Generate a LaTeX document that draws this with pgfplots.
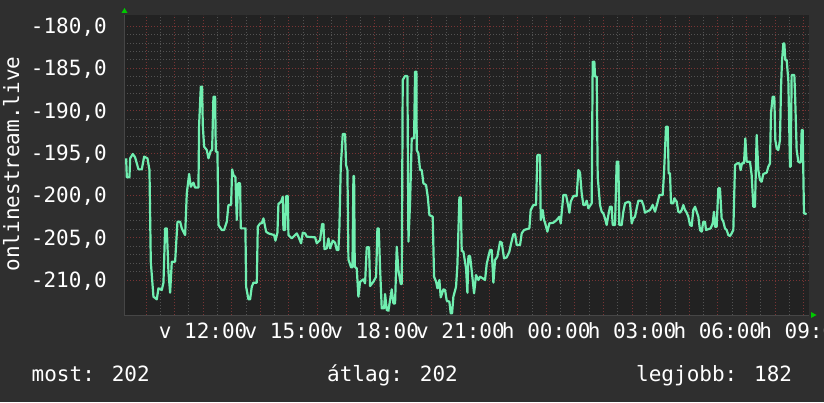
\documentclass[border=0pt]{standalone}
\usepackage{pgfplots}
\pgfplotsset{compat=1.18}
\usepackage{fontspec}
\setmainfont{DejaVu Sans Mono}
\definecolor{outerbg}{RGB}{47,47,47}
\definecolor{plotbg}{RGB}{34,34,34}
\definecolor{mgrid}{RGB}{120,52,52}
\definecolor{mingrid}{RGB}{82,82,82}
\definecolor{linec}{RGB}{112,238,176}
\definecolor{arrowc}{RGB}{0,200,0}
\definecolor{axisc}{RGB}{70,70,70}
\newcommand{\rrdfont}{\fontsize{21}{24}\selectfont}
\begin{document}
\begin{tikzpicture}[x=1pt,y=1pt]
\path[use as bounding box] (0,0) rectangle (824,402);
\fill[outerbg] (0,0) rectangle (824,402);
\begin{axis}[
  at={(124pt,87pt)}, anchor=south west,
  scale only axis, width=685pt, height=300pt,
  xmin=-2.767, xmax=21.19, ymin=-214.13, ymax=-178.70,
  axis background/.style={fill=plotbg},
  axis x line*=bottom, axis y line*=left,
  axis line style={draw=axisc, line width=1pt},
  xtick={-2,-1,0,1,2,3,4,5,6,7,8,9,10,11,12,13,14,15,16,17,18,19,20,21},
  xticklabels={,,v 12:00,,,v 15:00,,,v 18:00,,,v 21:00,,,h 00:00,,,h 03:00,,,h 06:00,,,h 09:00},
  minor x tick num=1,
  ytick={-210,-205,-200,-195,-190,-185,-180},
  yticklabels={{-210,0},{-205,0},{-200,0},{-195,0},{-190,0},{-185,0},{-180,0}},
  minor y tick num=4,
  grid=both,
  major grid style={draw=mgrid, line width=0.8pt, dash pattern=on 1.2pt off 1.8pt},
  minor grid style={draw=mingrid, line width=0.8pt, dash pattern=on 1.2pt off 1.8pt},
  tick style={draw=none},
  xticklabel style={font=\rrdfont, text=white, anchor=base, inner sep=0pt, yshift=-23pt},
  yticklabel style={font=\rrdfont, text=white, anchor=base east, inner sep=0pt, xshift=-17pt, yshift=-7.5pt},
]
\addplot[color=linec, line width=2.2pt, mark=none, line join=round] coordinates {
(-2.692,-195.63) (-2.669,-197.87) (-2.576,-197.87) (-2.552,-195.63) (-2.459,-195.12) (-2.378,-195.51)
(-2.261,-196.93) (-2.144,-196.93) (-2.063,-195.43) (-1.946,-195.63) (-1.876,-197.01) (-1.830,-207.83)
(-1.737,-211.97) (-1.620,-212.28) (-1.562,-210.98) (-1.445,-211.18) (-1.387,-210.31) (-1.329,-203.90)
(-1.270,-203.90) (-1.212,-209.02) (-1.154,-211.50) (-1.095,-207.83) (-0.979,-207.83) (-0.897,-203.11)
(-0.804,-203.11) (-0.746,-203.90) (-0.629,-204.69) (-0.571,-199.76) (-0.489,-197.48) (-0.431,-198.98)
(-0.338,-198.50) (-0.280,-199.09) (-0.163,-199.09) (-0.140,-191.69) (-0.081,-187.17) (-0.035,-187.17)
(-0.012,-191.69) (0.035,-194.25) (0.128,-194.65) (0.187,-195.63) (0.268,-194.72) (0.315,-194.65)
(0.361,-188.35) (0.420,-188.35) (0.443,-194.84) (0.501,-194.84) (0.536,-203.50) (0.653,-204.09)
(0.734,-204.09) (0.828,-203.11) (0.886,-201.14) (0.979,-201.14) (1.014,-196.93) (1.061,-197.60)
(1.131,-197.87) (1.177,-202.91) (1.224,-198.58) (1.294,-198.58) (1.317,-203.90) (1.480,-203.90)
(1.504,-210.79) (1.585,-212.28) (1.643,-212.28) (1.702,-210.79) (1.760,-210.31) (1.877,-210.31)
(1.912,-203.70) (1.993,-203.31) (2.051,-203.31) (2.110,-202.72) (2.203,-204.29) (2.285,-204.49)
(2.483,-204.69) (2.529,-205.35) (2.599,-204.41) (2.634,-201.02) (2.727,-200.75) (2.786,-200.16)
(2.809,-204.09) (2.867,-204.09) (2.902,-200.08) (2.960,-200.08) (2.984,-204.69) (3.100,-205.08)
(3.217,-204.69) (3.275,-204.49) (3.333,-204.88) (3.427,-205.67) (3.485,-204.41) (3.567,-204.49)
(3.625,-204.88) (3.916,-204.96) (3.975,-205.67) (4.091,-205.28) (4.161,-203.39) (4.208,-203.39)
(4.243,-206.34) (4.324,-206.26) (4.382,-205.08) (4.441,-206.26) (4.534,-205.35) (4.616,-205.59)
(4.674,-206.46) (4.732,-206.46) (4.767,-203.70) (4.814,-196.61) (4.884,-192.76) (4.965,-192.76)
(5.000,-196.42) (5.047,-197.01) (5.082,-207.56) (5.175,-208.50) (5.222,-208.50) (5.257,-197.72)
(5.280,-197.72) (5.303,-208.43) (5.373,-208.62) (5.431,-211.97) (5.490,-210.20) (5.606,-209.92)
(5.664,-210.39) (5.723,-206.14) (5.804,-206.14) (5.839,-210.71) (5.956,-210.20) (6.049,-209.61)
(6.096,-203.90) (6.142,-203.90) (6.189,-208.62) (6.247,-213.35) (6.329,-213.35) (6.364,-211.65)
(6.422,-213.54) (6.480,-213.62) (6.539,-212.36) (6.597,-211.10) (6.655,-212.76) (6.713,-212.76)
(6.772,-206.06) (6.830,-208.82) (6.912,-210.47) (6.947,-210.47) (6.981,-186.38) (7.063,-185.91)
(7.145,-185.91) (7.180,-205.47) (7.238,-200.94) (7.296,-193.27) (7.378,-193.27) (7.413,-185.39)
(7.459,-185.39) (7.471,-194.65) (7.529,-195.04) (7.588,-197.01) (7.646,-197.01) (7.704,-198.58)
(7.797,-198.78) (7.856,-200.16) (7.914,-202.32) (8.030,-202.52) (8.077,-209.61) (8.147,-210.20)
(8.194,-210.98) (8.263,-210.00) (8.310,-212.05) (8.403,-211.10) (8.462,-211.18) (8.520,-212.44)
(8.613,-212.56) (8.660,-213.94) (8.707,-213.94) (8.753,-211.97) (8.846,-210.79) (8.893,-208.23)
(8.963,-200.24) (9.010,-200.24) (9.044,-206.54) (9.103,-206.65) (9.196,-208.62) (9.243,-211.50)
(9.278,-207.17) (9.336,-207.17) (9.394,-208.90) (9.476,-211.57) (9.546,-209.41) (9.627,-210.00)
(9.685,-209.61) (9.779,-209.80) (9.860,-210.00) (9.918,-208.11) (9.977,-207.24) (10.035,-206.46)
(10.093,-206.46) (10.152,-210.31) (10.210,-207.64) (10.291,-207.24) (10.385,-205.47) (10.443,-205.59)
(10.525,-207.44) (10.618,-207.32) (10.711,-206.65) (10.758,-205.87) (10.851,-204.57) (10.909,-204.57)
(10.968,-205.87) (11.084,-205.87) (11.142,-204.49) (11.224,-204.09) (11.410,-203.90) (11.457,-201.73)
(11.550,-201.14) (11.643,-201.14) (11.690,-195.24) (11.783,-195.24) (11.807,-202.91) (11.876,-201.73)
(11.923,-202.91) (11.958,-203.23) (12.040,-204.29) (12.110,-203.31) (12.249,-203.23) (12.366,-202.91)
(12.459,-202.52) (12.506,-203.31) (12.599,-199.96) (12.693,-199.96) (12.774,-201.34) (12.809,-202.05)
(12.856,-200.75) (12.949,-200.08) (13.066,-200.08) (13.124,-197.01) (13.182,-197.32) (13.240,-199.76)
(13.299,-201.14) (13.357,-201.14) (13.415,-200.63) (13.473,-201.53) (13.590,-200.94) (13.625,-184.21)
(13.683,-184.21) (13.706,-185.98) (13.765,-185.98) (13.800,-197.80) (13.881,-201.14) (13.940,-201.93)
(13.998,-202.13) (14.056,-202.72) (14.114,-203.50) (14.173,-202.32) (14.231,-201.34) (14.289,-201.34)
(14.324,-203.50) (14.406,-203.50) (14.464,-196.02) (14.522,-196.02) (14.557,-203.50) (14.639,-203.50)
(14.697,-201.93) (14.755,-200.94) (14.872,-200.75) (14.930,-200.87) (14.989,-203.31) (15.047,-202.72)
(15.105,-202.52) (15.163,-201.53) (15.222,-200.63) (15.338,-200.63) (15.396,-201.14) (15.455,-202.05)
(15.513,-201.93) (15.630,-201.73) (15.723,-201.14) (15.805,-201.93) (15.886,-200.94) (15.956,-199.96)
(16.073,-199.96) (16.119,-197.40) (16.189,-191.89) (16.247,-191.89) (16.282,-197.40) (16.329,-197.40)
(16.364,-200.94) (16.445,-200.94) (16.480,-200.35) (16.562,-200.75) (16.620,-201.93) (16.679,-202.05)
(16.737,-201.73) (16.795,-201.14) (16.853,-201.73) (16.912,-202.05) (16.970,-202.52) (17.028,-203.50)
(17.086,-203.62) (17.145,-201.73) (17.203,-201.34) (17.261,-201.93) (17.320,-202.52) (17.378,-204.09)
(17.436,-204.29) (17.494,-203.11) (17.553,-203.11) (17.588,-204.09) (17.751,-203.90) (17.821,-203.31)
(17.867,-201.93) (17.902,-203.70) (17.960,-203.70) (18.019,-199.17) (18.077,-199.17) (18.135,-202.72)
(18.194,-203.11) (18.252,-203.90) (18.310,-204.09) (18.369,-204.69) (18.427,-204.80) (18.485,-204.49)
(18.543,-204.09) (18.602,-196.42) (18.683,-196.22) (18.753,-196.22) (18.800,-197.01) (18.846,-196.22)
(18.916,-196.22) (18.963,-193.27) (19.010,-196.02) (19.126,-196.02) (19.184,-197.60) (19.243,-201.34)
(19.301,-201.34) (19.359,-192.87) (19.417,-197.01) (19.476,-198.19) (19.534,-198.39) (19.592,-197.48)
(19.709,-197.32) (19.767,-196.61) (19.825,-196.22) (19.860,-190.33) (19.919,-188.35) (19.977,-188.35)
(20.012,-193.46) (20.059,-194.45) (20.117,-194.65) (20.175,-193.46) (20.210,-187.36) (20.245,-184.21)
(20.292,-182.05) (20.327,-182.05) (20.362,-184.02) (20.408,-184.02) (20.467,-186.38) (20.525,-196.61)
(20.548,-196.61) (20.583,-185.79) (20.676,-185.79) (20.700,-187.76) (20.758,-194.65) (20.816,-196.02)
(20.874,-196.14) (20.909,-196.02) (20.933,-192.28) (20.968,-192.28) (21.014,-202.13) (21.107,-202.21)
};
\end{axis}
\fill[arrowc] (121.5,389) -- (127.5,389) -- (124.5,394) -- cycle;
\fill[arrowc] (811,84) -- (811,90) -- (816.5,87) -- cycle;
\node[rotate=90, anchor=base, inner sep=0pt, text=white, font=\rrdfont] at (19,238) {onlinestream.live};
\node[anchor=base west, inner sep=0pt, text=white, font=\rrdfont] at (31.5,21) {most: 202};
\node[anchor=base west, inner sep=0pt, text=white, font=\rrdfont] at (327,21) {átlag: 202};
\node[anchor=base west, inner sep=0pt, text=white, font=\rrdfont] at (636,21) {legjobb: 182};
\end{tikzpicture}
\end{document}
